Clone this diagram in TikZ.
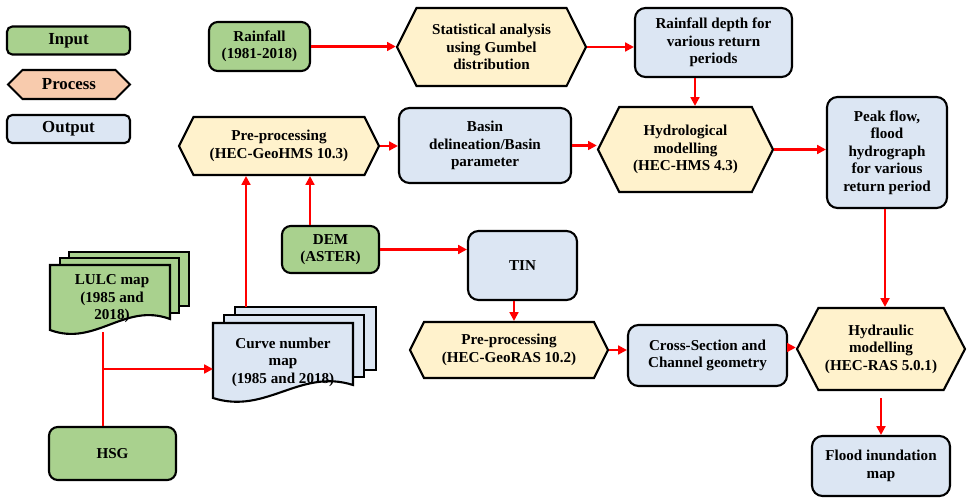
\documentclass[tikz,border=0pt]{standalone}
\usepackage{fontspec}
\setmainfont{Liberation Serif}
\usetikzlibrary{arrows.meta,shapes.symbols,calc}
\definecolor{gruen}{HTML}{A9D18E}
\definecolor{blau}{HTML}{DCE6F3}
\definecolor{gelb}{HTML}{FFF2CC}
\definecolor{pfirsich}{HTML}{F8CBAD}
\tikzset{
  arr/.style={-{Triangle[length=5pt,width=5pt]},red,line width=1.4pt},
  lin/.style={red,line width=1.4pt},
  txt/.style={font=\bfseries\fontsize{8.6}{9.9}\selectfont,align=center,inner sep=1pt},
  inbox/.style={txt,draw=black,fill=gruen,line width=1.2pt,rounded corners=5pt},
  outbox/.style={txt,draw=black,fill=blau,line width=1.2pt,rounded corners=6pt},
  procbox/.style={txt,draw=black,fill=gelb,line width=1.2pt,shape=signal,
    signal to=west and east,signal pointer angle=127},
  legbox/.style={font=\bfseries\fontsize{9.6}{11}\selectfont,draw=black,line width=1.2pt,
    minimum width=2.46cm,minimum height=0.56cm,inner sep=1pt},
  sheet/.style={draw=black,line width=1.2pt},
}
% page with wavy lower edge: x1, x2, top, left bottom, right bottom, fill
\newcommand{\docsheet}[6]{%
  \filldraw[sheet,fill=#6] (#1,#3) -- (#2,#3) -- (#2,#5)
    .. controls ($(#2,#5)!0.38!(#1,#5)+(0,0.34)$) and ($(#1,#4)!0.38!(#2,#4)+(0,-0.34)$) .. (#1,#4) -- cycle;}

\begin{document}
\begin{tikzpicture}
  \useasboundingbox (0,0) rectangle (19.34,-9.96);
  % legend
  \node[legbox,fill=gruen,rounded corners=3pt] (legin) at (1.37,-0.81) {Input};
  \node[legbox,fill=pfirsich,shape=signal,signal to=west and east,signal pointer angle=90,
    minimum height=0.58cm,minimum width=2.44cm] (legproc) at (1.38,-1.69) {Process};
  \node[legbox,fill=blau,rounded corners=3pt] (legout) at (1.37,-2.58) {Output};

  % upper rows
  \node[inbox,minimum width=2.02cm,minimum height=0.98cm] (rain) at (5.19,-0.93) {Rainfall\\(1981-2018)};
  \node[procbox,minimum width=3.78cm,minimum height=1.56cm] (stat) at (9.83,-0.94) {Statistical analysis\\using Gumbel\\distribution};
  \node[outbox,minimum width=3.14cm,minimum height=1.38cm] (depth) at (14.27,-0.85) {Rainfall depth for\\various return\\periods};
  \node[procbox,minimum width=4.00cm,minimum height=1.16cm] (prehms) at (5.58,-2.92) {Pre-processing\\(HEC-GeoHMS 10.3)};
  \node[outbox,minimum width=3.44cm,minimum height=1.50cm] (basin) at (9.70,-2.91) {Basin\\delineation/Basin\\parameter};
  \node[procbox,minimum width=3.50cm,minimum height=1.70cm] (hydro) at (13.71,-2.99) {Hydrological\\modelling\\(HEC-HMS 4.3)};
  \node[outbox,minimum width=2.40cm,minimum height=2.22cm] (peak) at (17.74,-3.05) {Peak flow,\\flood\\hydrograph\\for various\\return period};

  % middle and lower rows
  \node[inbox,minimum width=1.94cm,minimum height=0.94cm] (dem) at (6.61,-4.99) {DEM\\(ASTER)};
  \node[outbox,minimum width=2.18cm,minimum height=1.38cm] (tin) at (10.45,-5.31) {TIN};
  \node[procbox,minimum width=3.96cm,minimum height=1.12cm] (georas) at (10.18,-7.00) {Pre-processing\\(HEC-GeoRAS 10.2)};
  \node[outbox,minimum width=3.18cm,minimum height=1.22cm] (cross) at (14.15,-7.11) {Cross-Section and\\Channel geometry};
  \node[procbox,minimum width=3.36cm,minimum height=1.64cm,signal pointer angle=125] (hydraulic) at (17.62,-6.98) {Hydraulic\\modelling\\(HEC-RAS 5.0.1)};
  \node[outbox,minimum width=2.76cm,minimum height=1.20cm] (flood) at (17.62,-9.32) {Flood inundation\\map};
  \node[inbox,minimum width=2.54cm,minimum height=1.06cm] (hsg) at (2.25,-9.07) {HSG};

  % stacked maps
  \filldraw[sheet,fill=gruen] (1.38,-5.04) rectangle (3.78,-6.12);
  \filldraw[sheet,fill=gruen] (1.20,-5.16) rectangle (3.58,-6.26);
  \docsheet{1.00}{3.40}{-5.30}{-6.60}{-6.38}{gruen}
  \node[txt] (lulc) at (2.24,-5.98) {LULC map\\(1985 and\\2018)};
  \filldraw[sheet,fill=blau] (4.70,-6.14) rectangle (7.52,-7.40);
  \filldraw[sheet,fill=blau] (4.48,-6.30) rectangle (7.28,-7.54);
  \docsheet{4.26}{7.06}{-6.46}{-7.96}{-7.70}{blau}
  \node[txt] (cn) at (5.66,-7.24) {Curve number\\map\\(1985 and 2018)};
  \coordinate (lulcbot) at (2.06,-6.64);
  \coordinate (split) at (2.06,-7.38);
  \coordinate (cnleft) at (4.26,-7.38);
  \coordinate (cntop) at (4.92,-6.14);

  % connectors
  \draw[arr] (rain.east) -- (rain.east -| stat.west);
  \draw[arr] (stat.east) -- (stat.east -| depth.west);
  \draw[arr] ([xshift=-0.37cm]depth.south) -- ([xshift=-0.37cm]depth.south |- hydro.north);
  \draw[arr] (prehms.east) -- (prehms.east -| basin.west);
  \draw[arr] (basin.east) -- (basin.east -| hydro.west);
  \draw[arr] (hydro.east) -- (hydro.east -| peak.west);
  \draw[arr] ([xshift=-0.41cm]dem.north) -- ([xshift=-0.41cm]dem.north |- prehms.south);
  \draw[arr] (cntop) -- (cntop |- prehms.south);
  \draw[arr] (dem.east) -- (dem.east -| tin.west);
  \draw[arr] ([xshift=-0.17cm]tin.south) -- ([xshift=-0.17cm]tin.south |- georas.north);
  \draw[arr] (georas.east) -- (georas.east -| cross.west);
  \draw[arr] ([yshift=0.16cm]cross.east) -- ([yshift=0.16cm]cross.east -| hydraulic.west);
  \draw[arr] ([xshift=-0.04cm]peak.south) -- ([xshift=-0.04cm]peak.south |- hydraulic.north);
  \draw[arr] ([yshift=-0.14cm]hydraulic.south) -- (flood.north);
  \draw[lin] (lulcbot) -- (lulcbot |- hsg.north);
  \draw[arr] (split) -- (cnleft);
\end{tikzpicture}
\end{document}
